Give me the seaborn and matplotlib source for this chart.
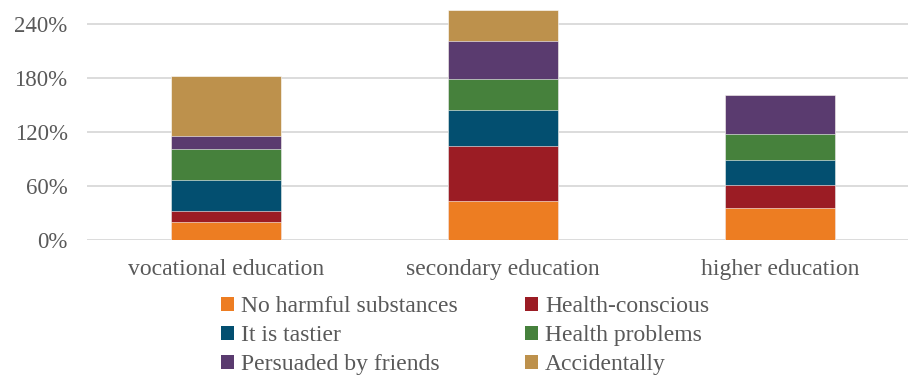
import numpy as np
import pandas as pd
import matplotlib
matplotlib.use("Agg")
import matplotlib.pyplot as plt
import seaborn as sns
from matplotlib.patches import Patch

categories = ["vocational education", "secondary education", "higher education"]
series_names = ["No harmful substances", "Health-conscious", "It is tastier",
                "Health problems", "Persuaded by friends", "Accidentally"]
no_harmful = [20.0, 43.7, 35.1]
health_conscious = [12.6, 61.1, 26.0]
tastier = [33.7, 39.2, 27.4]
health_problems = [35.2, 35.2, 29.6]
persuaded = [14.0, 42.2, 42.6]
accidentally = [66.7, 33.7, 0.0]
yticks = [0, 60, 120, 180, 240]

colors = ["#ED7D22", "#9B1C24", "#034F70", "#46813C", "#5A3B6F", "#BD914C"]

sns.set_theme(style="white")
plt.rcParams["font.family"] = ["Liberation Serif", "DejaVu Serif"]
text_color = "#595959"

values = [no_harmful, health_conscious, tastier, health_problems, persuaded, accidentally]
df = pd.DataFrame({"category": categories})
for name, vals in zip(series_names, values):
    df[name] = vals

# cumulative tops for stacking
cum = df[series_names].cumsum(axis=1)

fig = plt.figure(figsize=(9.08, 3.78), dpi=100)
ax = fig.add_axes([87 / 908, 138 / 378, 821 / 908, 238.5 / 378])

# draw from the top layer down so each lower segment covers the one above
for name, col in reversed(list(zip(series_names, colors))):
    d = pd.DataFrame({"category": df["category"], "top": cum[name]})
    sns.barplot(data=d, x="category", y="top", color=col, width=0.4,
                saturation=1, edgecolor="white", linewidth=0.4, ax=ax, zorder=3)

ax.set_xlim(-0.502, 2.462)
ax.set_ylim(0, 265)
ax.set_yticks(yticks)
ax.set_yticklabels([f"{t}%" for t in yticks])
ax.yaxis.grid(True, color="#D9D9D9", linewidth=1.3, zorder=0)
ax.set_axisbelow(True)
for s in ax.spines.values():
    s.set_visible(False)
ax.set_xlabel("")
ax.set_ylabel("")
ax.tick_params(axis="y", length=0, pad=14, labelsize=16.5, labelcolor=text_color)
ax.tick_params(axis="x", length=0, pad=14, labelsize=17, labelcolor=text_color)

# legend filled row by row: reorder for matplotlib's column-major layout
order = [0, 2, 4, 1, 3, 5]
handles = [Patch(facecolor=colors[i], edgecolor="none") for i in order]
labels = [series_names[i] for i in order]
fig.legend(handles, labels, loc="upper left", bbox_to_anchor=(221 / 908, 1 - 296 / 378),
           ncol=2, frameon=False, fontsize=17, labelcolor=text_color,
           handlelength=0.55, handleheight=0.55, handletextpad=0.3,
           columnspacing=2.85, labelspacing=0.34, borderpad=0, borderaxespad=0)

fig.savefig("out.png", dpi=100)
